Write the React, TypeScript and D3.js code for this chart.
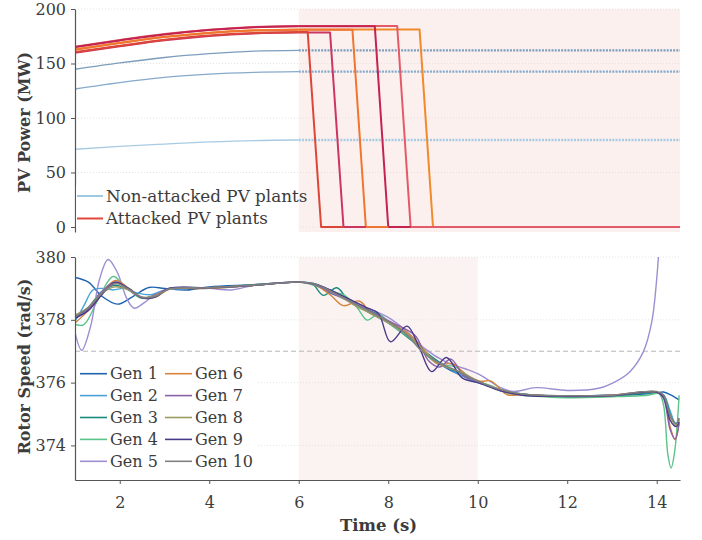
import * as d3 from 'd3';
import React, { useEffect, useRef } from 'react';

// ticks
const timeTicks = [2, 4, 6, 8, 10, 12, 14];
const powerTicks = [0, 50, 100, 150, 200];
const speedTicks = [374, 376, 378, 380];

// non-attacked PV plants, [time s, MW] (rise, then steady from 6 s)
const freePlants = [
  { color: '#7d9dbd', rise: [[1, 144.7], [2, 150.5], [3, 155.5], [4, 159], [5, 161.3], [6, 162]], steady: [[6, 162], [14.52, 162]] },
  { color: '#86aacb', rise: [[1, 126.6], [2, 132.5], [3, 137.2], [4, 140.2], [5, 141.8], [6, 142.5]], steady: [[6, 142.5], [14.52, 142.5]] },
  { color: '#a8cbe3', rise: [[1, 71.3], [2, 74], [3, 76.1], [4, 78], [5, 79.3], [6, 79.8]], steady: [[6, 79.8], [14.52, 79.8]] },
];

// attacked PV plants: rise, then plateau + trip to zero
const attackedPlants = [
  { color: '#f08a2a', rise: [[1, 163], [2, 169], [3, 174.5], [4, 178.3], [5, 180.5], [6, 181.3]], trip: [[6, 181.3], [8.7, 181.3], [9.0, 0], [14.52, 0]] },
  { color: '#e35a68', rise: [[1, 165.4], [2, 171.5], [3, 177], [4, 181], [5, 183.5], [6, 184.4]], trip: [[6, 184.4], [8.2, 184.4], [8.5, 0], [14.52, 0]] },
  { color: '#c4234f', rise: [[1, 165], [2, 171.2], [3, 176.7], [4, 180.7], [5, 183.2], [6, 184.1]], trip: [[6, 184.1], [7.7, 184.1], [8.0, 0], [8.5, 0]] },
  { color: '#f07530', rise: [[1, 162.6], [2, 168.7], [3, 174.2], [4, 178], [5, 180.2], [6, 181]], trip: [[6, 181], [7.2, 181], [7.5, 0], [8.0, 0]] },
  { color: '#cc3560', rise: [[1, 159.9], [2, 165.8], [3, 171.3], [4, 175.3], [5, 177.6], [6, 178.4]], trip: [[6, 178.4], [6.7, 178.4], [7.0, 0], [7.5, 0]] },
  { color: '#dc4638', rise: [[1, 160.5], [2, 166.3], [3, 171.8], [4, 175.8], [5, 178], [6, 178.8]], trip: [[6, 178.8], [6.2, 178.8], [6.5, 0], [7.0, 0]] },
];

// rotor speed of generators, [time s, rad/s]
const genNames = ['Gen 1', 'Gen 2', 'Gen 3', 'Gen 4', 'Gen 5', 'Gen 6', 'Gen 7', 'Gen 8', 'Gen 9', 'Gen 10'];
const genColors = ['#1f63b0', '#4aa3d8', '#1a8a7c', '#5cc38a', '#9d8fd2', '#d8843a', '#8b62a6', '#9a9a62', '#4a3a8a', '#808080'];

const gen1 = [[1, 379.35], [1.3, 379.2], [1.6, 378.75], [1.95, 378.5], [2.3, 378.75], [2.65, 379.03], [3.0, 379.0], [3.5, 378.95], [4, 379.05], [5, 379.12], [6, 379.2], [6.35, 379.15], [6.7, 378.95], [7, 378.75], [7.5, 378.35], [8, 377.9], [8.5, 377.4], [8.8, 377.0], [9.2, 376.55], [9.6, 376.25], [10, 376.05], [10.5, 375.75], [11, 375.62], [12, 375.57], [13, 375.6], [13.6, 375.62], [14.0, 375.68], [14.15, 375.7], [14.3, 375.62], [14.5, 375.45]];
const gen2 = [[1, 377.95], [1.2, 378.45], [1.4, 378.95], [1.6, 379.0], [1.85, 378.95], [2.1, 379.0], [2.4, 378.85], [2.7, 378.8], [3.0, 378.95], [3.5, 379.0], [4, 379.0], [5, 379.1], [6, 379.2], [6.35, 379.15], [6.7, 378.85], [7.0, 378.7], [7.5, 378.3], [8, 377.95], [8.5, 377.45], [8.8, 377.0], [9.2, 376.6], [9.6, 376.25], [10, 376.0], [10.5, 375.78], [11, 375.64], [12, 375.58], [13, 375.6], [14, 375.68], [14.15, 375.62], [14.3, 375.1], [14.42, 374.7], [14.5, 374.85]];
const gen3 = [[1, 378.05], [1.3, 378.4], [1.6, 378.9], [1.9, 379.1], [2.2, 378.95], [2.5, 378.7], [2.8, 378.75], [3.1, 379.0], [3.5, 379.02], [4, 379.02], [5, 379.12], [6, 379.2], [6.3, 379.15], [6.55, 378.78], [6.85, 379.02], [7.1, 378.65], [7.5, 378.35], [7.8, 378.15], [8.2, 377.7], [8.6, 377.25], [8.9, 376.9], [9.3, 376.5], [9.7, 376.25], [10.0, 376.05], [10.5, 375.75], [11, 375.63], [12, 375.56], [13, 375.58], [14, 375.68], [14.15, 375.6], [14.32, 374.9], [14.43, 374.65], [14.5, 374.8]];
const gen4 = [[1, 377.85], [1.2, 377.85], [1.5, 378.6], [1.85, 379.38], [2.1, 379.1], [2.45, 378.7], [2.75, 378.72], [3.1, 378.98], [3.5, 379.03], [4, 379.02], [5, 379.1], [6, 379.2], [6.35, 379.1], [6.7, 378.9], [7.0, 378.8], [7.3, 378.4], [7.53, 377.99], [7.78, 378.18], [8.1, 377.8], [8.5, 377.4], [8.8, 376.95], [9.1, 376.6], [9.5, 376.5], [9.9, 376.1], [10.3, 375.9], [10.7, 375.65], [11.5, 375.55], [12, 375.52], [13, 375.55], [13.8, 375.6], [14.05, 375.65], [14.15, 375.3], [14.25, 373.7], [14.32, 373.28], [14.4, 373.8], [14.5, 375.6]];
const gen5 = [[1, 377.6], [1.15, 377.03], [1.35, 377.8], [1.55, 379.3], [1.74, 379.92], [1.95, 379.5], [2.15, 378.7], [2.32, 378.37], [2.55, 378.55], [2.85, 378.85], [3.3, 379.02], [4, 379.0], [4.5, 378.95], [5, 379.1], [6, 379.2], [6.35, 379.15], [6.8, 378.85], [7.3, 378.5], [7.97, 378.1], [8.4, 377.65], [8.8, 377.1], [9.3, 376.65], [9.7, 376.45], [10.05, 376.25], [10.5, 375.85], [10.8, 375.72], [11.3, 375.84], [12, 375.75], [12.7, 375.82], [13.1, 376.05], [13.4, 376.35], [13.7, 376.98], [13.89, 377.94], [14.0, 379.31], [14.06, 380.5], [14.1, 381.5]];
const gen6 = [[1, 377.9], [1.3, 378.3], [1.6, 378.85], [1.9, 379.25], [2.2, 379.0], [2.5, 378.7], [2.8, 378.72], [3.1, 378.98], [3.5, 379.0], [4, 379.0], [5, 379.1], [6, 379.2], [6.35, 379.12], [6.7, 378.8], [7.0, 378.45], [7.35, 378.6], [7.6, 378.25], [8.0, 377.95], [8.5, 377.5], [8.8, 377.05], [9.1, 376.6], [9.45, 376.6], [9.7, 376.3], [10.05, 376.05], [10.3, 376.05], [10.65, 375.62], [11, 375.62], [12, 375.57], [13, 375.6], [14, 375.7], [14.15, 375.55], [14.3, 374.6], [14.41, 374.18], [14.5, 374.75]];
const gen7 = [[1, 378.1], [1.3, 378.35], [1.6, 378.9], [1.9, 379.2], [2.2, 378.95], [2.5, 378.7], [2.8, 378.8], [3.1, 379.0], [4, 379.02], [5, 379.1], [6, 379.2], [6.4, 379.1], [6.8, 378.8], [7.2, 378.55], [7.7, 378.2], [8.1, 377.9], [8.6, 377.5], [8.9, 376.7], [9.15, 376.5], [9.4, 376.75], [9.7, 376.2], [10.0, 376.05], [10.5, 375.75], [11, 375.62], [12, 375.57], [13, 375.6], [14, 375.7], [14.15, 375.5], [14.3, 374.5], [14.41, 374.2], [14.5, 374.7]];
const gen8 = [[1, 378.15], [1.3, 378.4], [1.6, 378.85], [1.9, 379.05], [2.2, 378.95], [2.5, 378.72], [2.8, 378.78], [3.1, 378.98], [4, 379.02], [5, 379.1], [6, 379.2], [6.4, 379.12], [6.8, 378.85], [7.2, 378.5], [7.6, 378.2], [8.0, 377.9], [8.5, 377.45], [8.8, 377.0], [9.2, 376.55], [9.6, 376.35], [10, 376.05], [10.5, 375.78], [11, 375.63], [12, 375.57], [13, 375.6], [14, 375.7], [14.15, 375.58], [14.3, 374.9], [14.44, 374.65], [14.5, 374.85]];
const gen9 = [[1, 378.05], [1.3, 378.3], [1.6, 378.8], [1.9, 379.2], [2.2, 379.0], [2.5, 378.7], [2.8, 378.72], [3.1, 379.0], [4, 379.02], [5, 379.1], [6, 379.2], [6.4, 379.12], [7.0, 378.75], [7.5, 378.4], [7.78, 378.2], [8.05, 377.3], [8.42, 377.8], [8.7, 377.1], [8.97, 376.35], [9.3, 376.8], [9.65, 376.15], [10.0, 376.0], [10.5, 375.75], [11, 375.6], [12, 375.56], [13, 375.58], [14, 375.7], [14.15, 375.55], [14.3, 374.8], [14.44, 374.6], [14.5, 374.75]];
const gen10 = [[1, 378.1], [1.3, 378.4], [1.6, 378.85], [1.9, 379.15], [2.2, 378.98], [2.5, 378.72], [2.8, 378.75], [3.1, 378.98], [4, 379.02], [5, 379.1], [6, 379.2], [6.4, 379.12], [6.8, 378.85], [7.2, 378.55], [7.6, 378.25], [8.0, 377.95], [8.4, 377.55], [8.75, 377.0], [9.1, 376.65], [9.5, 376.4], [10, 376.05], [10.5, 375.78], [11, 375.64], [12, 375.58], [13, 375.6], [14, 375.72], [14.15, 375.6], [14.3, 374.95], [14.44, 374.7], [14.5, 374.88]];
const genSeries = [gen1, gen2, gen3, gen4, gen5, gen6, gen7, gen8, gen9, gen10];

const speedLimit = 377;
const attackWindowTop = [6, 14.52];
const attackWindowBottom = [6, 10];

const App = () => {
  const svgRef = useRef(null);

  useEffect(() => {
    const width = 702;
    const height = 540;
    const font = "'DejaVu Serif', serif";
    const left = 75, right = 680;
    const top1 = 9, bot1 = 232;
    const top2 = 257, bot2 = 480;

    const xScale = d3.scaleLinear().domain([1, 14.52]).range([left, right]);
    const yPower = d3.scaleLinear().domain([-4.6, 200]).range([bot1, top1]);
    const ySpeed = d3.scaleLinear().domain([372.9, 380]).range([bot2, top2]);

    const svg = d3.select(svgRef.current);
    svg.selectAll('*').remove();
    svg.attr('width', width).attr('height', height);

    svg.append('rect').attr('width', width).attr('height', height).attr('fill', '#fff');

    const defs = svg.append('defs');
    defs.append('clipPath').attr('id', 'clipTop').append('rect')
      .attr('x', left).attr('y', top1).attr('width', right - left).attr('height', bot1 - top1);
    defs.append('clipPath').attr('id', 'clipBot').append('rect')
      .attr('x', left).attr('y', top2).attr('width', right - left).attr('height', bot2 - top2);

    // shaded attack windows
    svg.append('rect')
      .attr('x', xScale(attackWindowTop[0])).attr('y', top1)
      .attr('width', xScale(attackWindowTop[1]) - xScale(attackWindowTop[0])).attr('height', bot1 - top1)
      .attr('fill', '#fbf0ee');
    svg.append('rect')
      .attr('x', xScale(attackWindowBottom[0])).attr('y', top2)
      .attr('width', xScale(attackWindowBottom[1]) - xScale(attackWindowBottom[0])).attr('height', bot2 - top2)
      .attr('fill', '#fbf3f2');

    // grid
    svg.append('g').selectAll('line').data(powerTicks).enter().append('line')
      .attr('x1', left).attr('x2', right)
      .attr('y1', d => yPower(d)).attr('y2', d => yPower(d))
      .attr('stroke', '#ddd').attr('stroke-width', 0.8).attr('stroke-dasharray', '1,2');
    svg.append('g').selectAll('line').data(speedTicks).enter().append('line')
      .attr('x1', left).attr('x2', right)
      .attr('y1', d => ySpeed(d)).attr('y2', d => ySpeed(d))
      .attr('stroke', '#ddd').attr('stroke-width', 0.8).attr('stroke-dasharray', '1,2');

    // top panel lines
    const powerLine = d3.line().x(d => xScale(d[0])).y(d => yPower(d[1]));
    const gTop = svg.append('g').attr('clip-path', 'url(#clipTop)');
    freePlants.forEach(p => {
      gTop.append('path')
        .attr('d', powerLine.curve(d3.curveMonotoneX)(p.rise))
        .attr('fill', 'none').attr('stroke', p.color).attr('stroke-width', 1.3);
      gTop.append('path')
        .attr('d', powerLine.curve(d3.curveLinear)(p.steady))
        .attr('fill', 'none').attr('stroke', p.color).attr('stroke-width', 2.4)
        .attr('stroke-dasharray', '2,1.2');
    });
    attackedPlants.forEach(p => {
      gTop.append('path')
        .attr('d', powerLine.curve(d3.curveMonotoneX)(p.rise))
        .attr('fill', 'none').attr('stroke', p.color).attr('stroke-width', 2);
      gTop.append('path')
        .attr('d', powerLine.curve(d3.curveLinear)(p.trip))
        .attr('fill', 'none').attr('stroke', p.color).attr('stroke-width', 2)
        .attr('stroke-linejoin', 'round');
    });

    // bottom panel
    svg.append('line')
      .attr('x1', left).attr('x2', right)
      .attr('y1', ySpeed(speedLimit)).attr('y2', ySpeed(speedLimit))
      .attr('stroke', '#b8b8b8').attr('stroke-width', 1).attr('stroke-dasharray', '5,3');

    const speedLine = d3.line()
      .x(d => xScale(d[0])).y(d => ySpeed(d[1]))
      .curve(d3.curveCatmullRom.alpha(0.5));
    const gBot = svg.append('g').attr('clip-path', 'url(#clipBot)');
    genSeries.forEach((s, i) => {
      gBot.append('path').datum(s)
        .attr('d', speedLine)
        .attr('fill', 'none').attr('stroke', genColors[i]).attr('stroke-width', 1.4);
    });

    // axes
    const axisColor = '#555';
    const textColor = '#3c3c3c';
    const styleAxis = g => {
      g.select('.domain').attr('stroke', axisColor).attr('stroke-width', 1.2);
      g.selectAll('.tick line').attr('stroke', axisColor);
      g.selectAll('.tick text').attr('fill', textColor).style('font-family', font).style('font-size', '16px');
    };

    svg.append('g').attr('transform', `translate(${left},0)`)
      .call(d3.axisLeft(yPower).tickValues(powerTicks).tickSize(4).tickSizeOuter(0).tickPadding(5))
      .call(styleAxis);
    svg.append('g').attr('transform', `translate(${left},0)`)
      .call(d3.axisLeft(ySpeed).tickValues(speedTicks).tickSize(4).tickSizeOuter(0).tickPadding(5))
      .call(styleAxis);
    svg.append('g').attr('transform', `translate(0,${bot2})`)
      .call(d3.axisBottom(xScale).tickValues(timeTicks).tickSize(4).tickSizeOuter(0).tickPadding(13))
      .call(styleAxis);

    // axis titles
    const titleStyle = sel => sel
      .attr('text-anchor', 'middle').attr('fill', textColor)
      .style('font-family', font).style('font-size', '16px').style('font-weight', 'bold');
    svg.append('text')
      .attr('transform', `translate(30,${(top1 + bot1) / 2 + 2}) rotate(-90)`)
      .call(titleStyle)
      .text('PV Power (MW)');
    svg.append('text')
      .attr('transform', `translate(30,${(top2 + bot2) / 2 - 2}) rotate(-90)`)
      .call(titleStyle)
      .text('Rotor Speed (rad/s)');
    svg.append('text')
      .attr('x', (left + right) / 2 + 1).attr('y', 531)
      .call(titleStyle)
      .style('font-size', '16.5px')
      .text('Time (s)');

    // top legend
    const legTop = svg.append('g');
    legTop.append('rect').attr('x', 76).attr('y', 185).attr('width', 222).attr('height', 44)
      .attr('fill', '#fff').attr('opacity', 0.85);
    const topItems = [
      { label: 'Non-attacked PV plants', color: '#9ecae1', y: 196 },
      { label: 'Attacked PV plants', color: '#e0483c', y: 218.5 },
    ];
    topItems.forEach(it => {
      legTop.append('line').attr('x1', 77).attr('x2', 103).attr('y1', it.y).attr('y2', it.y)
        .attr('stroke', it.color).attr('stroke-width', 2);
      legTop.append('text').attr('x', 106).attr('y', it.y).attr('dy', '0.35em')
        .attr('fill', textColor).style('font-family', font).style('font-size', '16.8px')
        .text(it.label);
    });

    // bottom legend
    const legBot = svg.append('g');
    legBot.append('rect').attr('x', 77).attr('y', 362).attr('width', 180).attr('height', 111)
      .attr('fill', '#fff').attr('opacity', 0.85);
    genNames.forEach((name, i) => {
      const col = Math.floor(i / 5);
      const row = i % 5;
      const lx = col === 0 ? 80 : 165;
      const ly = 373.7 + row * 21.9;
      legBot.append('line').attr('x1', lx).attr('x2', lx + 27).attr('y1', ly).attr('y2', ly)
        .attr('stroke', genColors[i]).attr('stroke-width', 1.6);
      legBot.append('text').attr('x', lx + 30).attr('y', ly).attr('dy', '0.35em')
        .attr('fill', textColor).style('font-family', font).style('font-size', '16px')
        .text(name);
    });
  }, []);

  return <svg ref={svgRef} style={{ position: 'absolute', left: 0, top: 0 }}></svg>;
};

export default App;
